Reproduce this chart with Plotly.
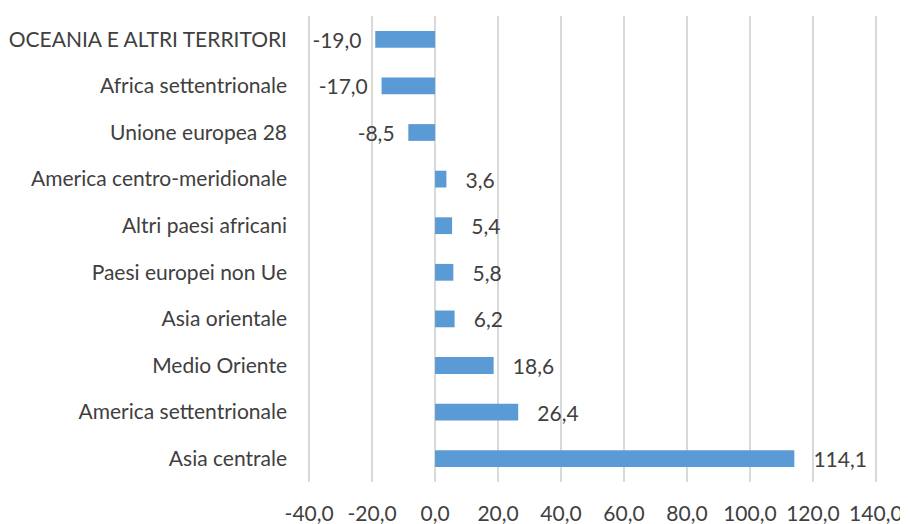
import plotly.graph_objects as go

categories = [
    "OCEANIA E ALTRI TERRITORI",
    "Africa settentrionale",
    "Unione europea 28",
    "America centro-meridionale",
    "Altri paesi africani",
    "Paesi europei non Ue",
    "Asia orientale",
    "Medio Oriente",
    "America settentrionale",
    "Asia centrale",
]
values = [-19.0, -17.0, -8.5, 3.6, 5.4, 5.8, 6.2, 18.6, 26.4, 114.1]
tick_vals = [-40, -20, 0, 20, 40, 60, 80, 100, 120, 140]


def fmt(v):
    return f"{v:.1f}".replace(".", ",")


pad_pos = "\u00a0\u00a0\u00a0"
pad_neg = "\u00a0\u00a0"
value_labels = [(fmt(v) + pad_neg) if v < 0 else (pad_pos + fmt(v)) for v in values]
tick_labels = [fmt(v) for v in tick_vals]

font_family = "Lato"
text_color = "#404040"
fsize = 21

# The page body has an 8px default margin, so the figure is sized 900x516
fig = go.Figure(
    go.Bar(
        x=values,
        y=categories,
        orientation="h",
        marker=dict(color="#5B9BD5", line=dict(width=0)),
        width=0.36,
        text=value_labels,
        textposition="outside",
        constraintext="none",
        textfont=dict(family=font_family, size=fsize, color=text_color),
        cliponaxis=False,
        hoverinfo="skip",
    )
)

fig.update_layout(
    width=900,
    height=516,
    margin=dict(l=298, r=29, t=8, b=42, autoexpand=False),
    paper_bgcolor="white",
    plot_bgcolor="white",
    showlegend=False,
    font=dict(family=font_family, size=fsize, color=text_color),
)
fig.update_xaxes(
    range=[-41, 141],
    tickvals=tick_vals,
    ticktext=tick_labels,
    showgrid=True,
    gridcolor="#D9D9D9",
    gridwidth=1.5,
    zeroline=False,
    showline=False,
    ticks="",
    automargin=False,
    ticklabelstandoff=17,
    tickfont=dict(family=font_family, size=fsize, color=text_color),
)
fig.update_yaxes(
    autorange="reversed",
    showgrid=False,
    zeroline=False,
    showline=False,
    ticks="",
    automargin=False,
    ticklabelstandoff=18,
    tickfont=dict(family=font_family, size=fsize, color=text_color),
)

fig.write_html("out.html")
